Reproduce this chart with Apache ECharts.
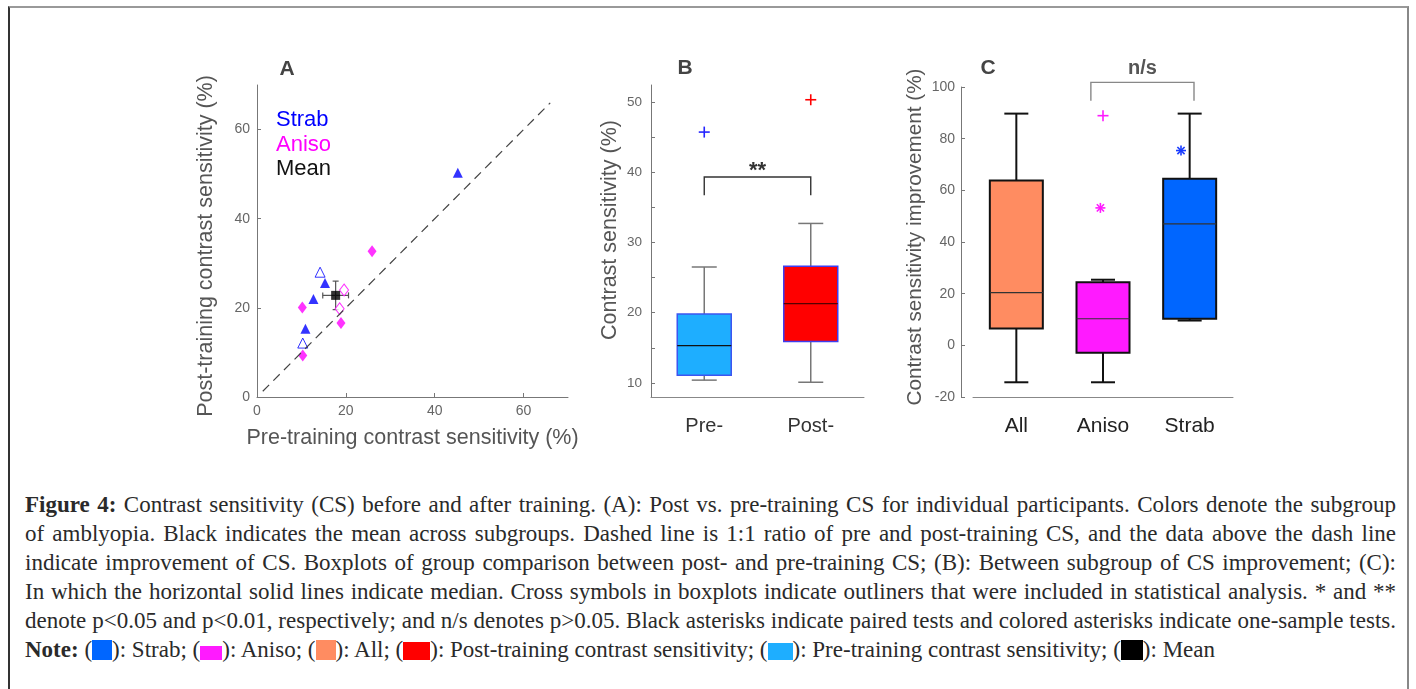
<!DOCTYPE html>
<html lang="en">
<head>
<meta charset="UTF-8">
<title>Figure 4: contrast sensitivity before and after training</title>
<script src="https://cdn.jsdelivr.net/npm/echarts@6/dist/echarts.min.js"></script>
<style>
  body { margin: 0; background: #fff; }
  #frame { position: absolute; left: 8px; top: 6px; width: 1397px; height: 700px;
           border-top: 2px solid #999; border-left: 2px solid #333; border-right: 2px solid #888; }
  #chart { position: absolute; left: 0; top: 0; width: 1416px; height: 470px; }
  #caption { position: absolute; left: 25px; top: 490px; width: 1371px;
             font-family: "Liberation Serif", serif; font-size: 23px; line-height: 29px; color: #2a2a2a; }
  #caption div { text-align: justify; text-align-last: justify; }
  #caption div.last { text-align-last: left; }
  .sw { display: inline-block; vertical-align: -3px; }
</style>
</head>
<body>
<div id="frame"></div>
<div id="chart"></div>
<div id="caption">
  <div><b>Figure 4:</b> Contrast sensitivity (CS) before and after training. (A): Post vs. pre-training CS for individual participants. Colors denote the subgroup</div>
  <div>of amblyopia. Black indicates the mean across subgroups. Dashed line is 1:1 ratio of pre and post-training CS, and the data above the dash line</div>
  <div>indicate improvement of CS. Boxplots of group comparison between post- and pre-training CS; (B): Between subgroup of CS improvement; (C):</div>
  <div>In which the horizontal solid lines indicate median. Cross symbols in boxplots indicate outliners that were included in statistical analysis. * and **</div>
  <div>denote p&lt;0.05 and p&lt;0.01, respectively; and n/s denotes p&gt;0.05. Black asterisks indicate paired tests and colored asterisks indicate one-sample tests.</div>
  <div class="last"><b>Note:</b> (<span class="sw" style="width:20px;height:20px;background:#0066ff"></span>): Strab; (<span class="sw" style="width:22px;height:14px;background:#ff1aff"></span>): Aniso; (<span class="sw" style="width:20px;height:20px;background:#ff8c61"></span>): All; (<span class="sw" style="width:27px;height:18px;background:#ff0000"></span>): Post-training contrast sensitivity; (<span class="sw" style="width:25px;height:17px;background:#1eaeff"></span>): Pre-training contrast sensitivity; (<span class="sw" style="width:22px;height:20px;background:#000"></span>): Mean</div>
</div>
<script>
// ---- panel A: post vs pre training CS (%), [pre, post]
var strabFilled = [[45.2, 50.3], [15.3, 25.6], [12.7, 22.0], [10.9, 15.3]];
var strabOpen = [[14.2, 28.0], [10.3, 12.1]];
var anisoFilled = [[25.9, 32.7], [10.2, 20.1], [18.9, 16.6], [10.3, 9.3]];
var anisoOpen = [[19.6, 24.0], [18.6, 19.8]];
var meanPoint = [17.7, 22.8];
var meanErr = [2.9, 3.2];              // x err, y err
var unityLine = [[1.3, 1.3], [66, 66]];
var ticksA = [0, 20, 40, 60];

// ---- panel B: pre vs post boxplots
var prePostCats = ['Pre-', 'Post-'];
// low whisker, q1, median, q3, high whisker
var prePostBoxes = [[10.4, 11.1, 15.3, 19.8, 26.5], [10.1, 15.9, 21.3, 26.6, 32.7]];
var prePostOutliers = [[0, 45.7], [1, 50.3]];
var prePostBracket = [[0, 1, 39.3, 36.7]];   // from, to, top, leg end
var ticksB = [10, 15, 20, 25, 30, 35, 40, 45, 50];
var labelsB = [10, 20, 30, 40, 50];

// ---- panel C: CS improvement (%) by subgroup
var groupCats = ['All', 'Aniso', 'Strab'];
var groupBoxes = [[-14.3, 6.5, 20.4, 63.8, 89.7], [-14.3, -2.9, 10.3, 24.4, 25.4], [9.6, 10.3, 47.0, 64.5, 89.7]];
var groupOutliers = [[1, 88.9]];
var groupStars = [[0.97, 53.2], [1.9, 75.4]];
var groupBracket = [[0.86, 2.05, 101.8, 94.7]];

var boxStyleB = [
  {fill: '#1eaeff', border: '#3d55f0', borderWidth: 1.5, median: '#111', whisker: '#777', whiskerWidth: 1.5},
  {fill: '#ff0000', border: '#3d3df0', borderWidth: 1.5, median: '#500', whisker: '#777', whiskerWidth: 1.5}
];
var boxStyleC = [
  {fill: '#ff8c61', border: '#111', borderWidth: 2, median: '#333', whisker: '#111', whiskerWidth: 2},
  {fill: '#ff1aff', border: '#111', borderWidth: 2, median: '#333', whisker: '#111', whiskerWidth: 2},
  {fill: '#0066ff', border: '#111', borderWidth: 2, median: '#333', whisker: '#111', whiskerWidth: 2}
];

var FONT = 'Liberation Sans';

function catX(api, v) {
  var i = Math.round(v);
  return api.coord([i, 0])[0] + (v - i) * api.size([1, 0])[0];
}

function boxItem(styles, boxW, capW) {
  return function (params, api) {
    var i = api.value(0);
    var x = api.coord([i, 0])[0];
    var p = function (k) { return api.coord([i, api.value(k)])[1]; };
    var lo = p(1), q1 = p(2), md = p(3), q3 = p(4), hi = p(5);
    var s = styles[i];
    var wl = {stroke: s.whisker, lineWidth: s.whiskerWidth};
    return {type: 'group', children: [
      {type: 'line', shape: {x1: x, y1: q3, x2: x, y2: hi}, style: wl},
      {type: 'line', shape: {x1: x, y1: q1, x2: x, y2: lo}, style: wl},
      {type: 'line', shape: {x1: x - capW / 2, y1: hi, x2: x + capW / 2, y2: hi}, style: wl},
      {type: 'line', shape: {x1: x - capW / 2, y1: lo, x2: x + capW / 2, y2: lo}, style: wl},
      {type: 'rect', shape: {x: x - boxW / 2, y: q3, width: boxW, height: q1 - q3},
        style: {fill: s.fill, stroke: s.border, lineWidth: s.borderWidth}},
      {type: 'line', shape: {x1: x - boxW / 2, y1: md, x2: x + boxW / 2, y2: md},
        style: {stroke: s.median, lineWidth: 1.2}}
    ]};
  };
}

function plusItem(colors, r) {
  return function (params, api) {
    var x = catX(api, api.value(0)), y = api.coord([0, api.value(1)])[1];
    var st = {stroke: colors[params.dataIndex], lineWidth: 1.6};
    return {type: 'group', children: [
      {type: 'line', shape: {x1: x - r, y1: y, x2: x + r, y2: y}, style: st},
      {type: 'line', shape: {x1: x, y1: y - r, x2: x, y2: y + r}, style: st}
    ]};
  };
}

function starItem(colors, r) {
  return function (params, api) {
    var x = catX(api, api.value(0)), y = api.coord([0, api.value(1)])[1];
    var st = {stroke: colors[params.dataIndex], lineWidth: 1.6};
    var d = r * 0.72;
    return {type: 'group', children: [
      {type: 'line', shape: {x1: x - r, y1: y, x2: x + r, y2: y}, style: st},
      {type: 'line', shape: {x1: x, y1: y - r, x2: x, y2: y + r}, style: st},
      {type: 'line', shape: {x1: x - d, y1: y - d, x2: x + d, y2: y + d}, style: st},
      {type: 'line', shape: {x1: x - d, y1: y + d, x2: x + d, y2: y - d}, style: st}
    ]};
  };
}

function bracketItem(label, color, textColor, textGap, fontSize) {
  return function (params, api) {
    var x1 = catX(api, api.value(0)), x2 = catX(api, api.value(1));
    var yt = api.coord([0, api.value(2)])[1], yl = api.coord([0, api.value(3)])[1];
    var st = {stroke: color, lineWidth: 1.4, fill: null};
    return {type: 'group', children: [
      {type: 'polyline', shape: {points: [[x1, yl], [x1, yt], [x2, yt], [x2, yl]]}, style: st},
      {type: 'text', x: (x1 + x2) / 2, y: yt - textGap, style: {
        text: label, fill: textColor, fontSize: fontSize, fontWeight: 'bold', fontFamily: FONT,
        align: 'center', verticalAlign: 'middle', textAlign: 'center', textVerticalAlign: 'middle'}}
    ]};
  };
}

function errItem(params, api) {
  var x = api.value(0), y = api.value(1), ex = api.value(2), ey = api.value(3);
  var l = api.coord([x - ex, y]), r = api.coord([x + ex, y]);
  var t = api.coord([x, y + ey]), b = api.coord([x, y - ey]);
  var st = {stroke: '#555', lineWidth: 1.2};
  var c = 3;
  return {type: 'group', children: [
    {type: 'line', shape: {x1: l[0], y1: l[1], x2: r[0], y2: r[1]}, style: st},
    {type: 'line', shape: {x1: l[0], y1: l[1] - c, x2: l[0], y2: l[1] + c}, style: st},
    {type: 'line', shape: {x1: r[0], y1: r[1] - c, x2: r[0], y2: r[1] + c}, style: st},
    {type: 'line', shape: {x1: t[0], y1: t[1], x2: b[0], y2: b[1]}, style: st},
    {type: 'line', shape: {x1: t[0] - c, y1: t[1], x2: t[0] + c, y2: t[1]}, style: st},
    {type: 'line', shape: {x1: b[0] - c, y1: b[1], x2: b[0] + c, y2: b[1]}, style: st}
  ]};
}

var gray = '#777';
var tickLbl = {color: '#666', fontSize: 14, fontFamily: FONT};
var letter = {fontSize: 21, fontWeight: 'bold', fill: '#444', fontFamily: FONT, align: 'center', verticalAlign: 'middle'};

var chart = echarts.init(document.getElementById('chart'));
chart.setOption({
  animation: false,
  textStyle: {fontFamily: FONT},
  grid: [
    {left: 257, top: 85, width: 311, height: 312},
    {left: 651, top: 85, width: 213, height: 312},
    {left: 973, top: 87, width: 260, height: 310}
  ],
  xAxis: [
    {gridIndex: 0, type: 'value', min: 0, max: 70,
      axisLine: {onZero: false, lineStyle: {color: gray}}, splitLine: {show: false},
      axisTick: {inside: true, length: 4, customValues: ticksA, lineStyle: {color: gray}},
      axisLabel: Object.assign({customValues: ticksA, margin: 7}, tickLbl),
      name: 'Pre-training contrast sensitivity (%)', nameLocation: 'middle', nameGap: 30,
      nameTextStyle: {fontSize: 21.5, color: '#555', fontFamily: FONT}},
    {gridIndex: 1, type: 'category', data: prePostCats,
      axisLine: {onZero: false, lineStyle: {color: '#888'}},
      axisTick: {inside: true, length: 4, lineStyle: {color: '#888'}},
      axisLabel: {fontSize: 20, color: '#333', margin: 19, fontFamily: FONT}},
    {gridIndex: 2, type: 'category', data: groupCats,
      axisLine: {onZero: false, lineStyle: {color: '#888'}},
      axisTick: {inside: true, length: 4, lineStyle: {color: '#888'}},
      axisLabel: {fontSize: 21, color: '#222', margin: 19, fontFamily: FONT}}
  ],
  yAxis: [
    {gridIndex: 0, type: 'value', min: 0, max: 70,
      axisLine: {show: true, onZero: false, lineStyle: {color: gray}}, splitLine: {show: false},
      axisTick: {show: true, inside: true, length: 4, customValues: ticksA, lineStyle: {color: gray}},
      axisLabel: Object.assign({customValues: ticksA, margin: 7}, tickLbl),
      name: 'Post-training contrast sensitivity (%)', nameLocation: 'middle', nameGap: 40,
      nameTextStyle: {fontSize: 21.5, color: '#555', fontFamily: FONT, padding: [0, 10, 0, 0]}},
    {gridIndex: 1, type: 'value', min: 8, max: 52.4,
      axisLine: {show: true, onZero: false, lineStyle: {color: gray}}, splitLine: {show: false},
      axisTick: {show: true, inside: true, length: 4, customValues: ticksB, lineStyle: {color: gray}},
      axisLabel: Object.assign({customValues: labelsB, margin: 9}, tickLbl, {fontSize: 13.5}),
      name: 'Contrast sensitivity (%)', nameLocation: 'middle', nameGap: 30,
      nameTextStyle: {fontSize: 21.5, color: '#555', fontFamily: FONT, padding: [0, 0, 0, 22]}},
    {gridIndex: 2, type: 'value', min: -20, max: 100, interval: 20, offset: 12,
      axisLine: {show: true, onZero: false, lineStyle: {color: gray}}, splitLine: {show: false},
      axisTick: {show: true, inside: true, length: 4, lineStyle: {color: gray}},
      axisLabel: Object.assign({margin: 6}, tickLbl),
      name: 'Contrast sensitivity improvement (%)', nameLocation: 'middle', nameGap: 35,
      nameTextStyle: {fontSize: 20.7, color: '#555', fontFamily: FONT, padding: [0, 0, 0, 10]}}
  ],
  graphic: [
    {type: 'text', x: 287, y: 69, style: Object.assign({text: 'A'}, letter)},
    {type: 'text', x: 685, y: 68, style: Object.assign({text: 'B'}, letter)},
    {type: 'text', x: 988, y: 68, style: Object.assign({text: 'C'}, letter)},
    {type: 'text', x: 276, y: 120, style: {text: 'Strab', fontSize: 22, fill: '#0000ff', fontFamily: FONT, verticalAlign: 'middle'}},
    {type: 'text', x: 276, y: 145, style: {text: 'Aniso', fontSize: 22, fill: '#ff00ff', fontFamily: FONT, verticalAlign: 'middle'}},
    {type: 'text', x: 276, y: 169, style: {text: 'Mean', fontSize: 22, fill: '#111', fontFamily: FONT, verticalAlign: 'middle'}}
  ],
  series: [
    {type: 'line', xAxisIndex: 0, yAxisIndex: 0, data: unityLine, symbol: 'none', silent: true,
      lineStyle: {color: '#444', width: 1.2, type: [9, 6]}},
    {type: 'scatter', xAxisIndex: 0, yAxisIndex: 0, data: strabFilled, symbol: 'triangle', symbolSize: 10,
      itemStyle: {color: '#0000ff'}},
    {type: 'scatter', xAxisIndex: 0, yAxisIndex: 0, data: strabOpen, symbol: 'triangle', symbolSize: 10,
      itemStyle: {color: '#fff', borderColor: '#0000ff', borderWidth: 1}},
    {type: 'scatter', xAxisIndex: 0, yAxisIndex: 0, data: anisoFilled, symbol: 'diamond', symbolSize: [9, 12],
      itemStyle: {color: '#ff00ff'}},
    {type: 'scatter', xAxisIndex: 0, yAxisIndex: 0, data: anisoOpen, symbol: 'diamond', symbolSize: [9, 12],
      itemStyle: {color: '#fff', borderColor: '#ff00ff', borderWidth: 1}},
    {type: 'custom', xAxisIndex: 0, yAxisIndex: 0, renderItem: errItem, silent: true,
      data: [meanPoint.concat(meanErr)]},
    {type: 'scatter', xAxisIndex: 0, yAxisIndex: 0, data: [meanPoint], symbol: 'rect', symbolSize: 9,
      itemStyle: {color: '#000'}},

    {type: 'custom', xAxisIndex: 1, yAxisIndex: 1, renderItem: boxItem(boxStyleB, 54, 25), silent: true,
      encode: {x: 0, y: [1, 2, 3, 4, 5]},
      data: prePostBoxes.map(function (b, i) { return [i].concat(b); })},
    {type: 'custom', xAxisIndex: 1, yAxisIndex: 1, renderItem: plusItem(['#2525ff', '#ff0000'], 5.5), silent: true,
      encode: {x: 0, y: 1}, data: prePostOutliers},
    {type: 'custom', xAxisIndex: 1, yAxisIndex: 1, renderItem: bracketItem('**', '#333', '#333', 6, 22), silent: true,
      encode: {x: 0, y: 2}, data: prePostBracket},

    {type: 'custom', xAxisIndex: 2, yAxisIndex: 2, renderItem: boxItem(boxStyleC, 53, 24), silent: true,
      encode: {x: 0, y: [1, 2, 3, 4, 5]},
      data: groupBoxes.map(function (b, i) { return [i].concat(b); })},
    {type: 'custom', xAxisIndex: 2, yAxisIndex: 2, renderItem: plusItem(['#ff1aff'], 5.5), silent: true,
      encode: {x: 0, y: 1}, data: groupOutliers},
    {type: 'custom', xAxisIndex: 2, yAxisIndex: 2, renderItem: starItem(['#ff1aff', '#1a3cff'], 5), silent: true,
      encode: {x: 0, y: 1}, data: groupStars},
    {type: 'custom', xAxisIndex: 2, yAxisIndex: 2, renderItem: bracketItem('n/s', '#888', '#555', 14, 20), silent: true,
      encode: {x: 0, y: 2}, data: groupBracket}
  ]
});
</script>
</body>
</html>
